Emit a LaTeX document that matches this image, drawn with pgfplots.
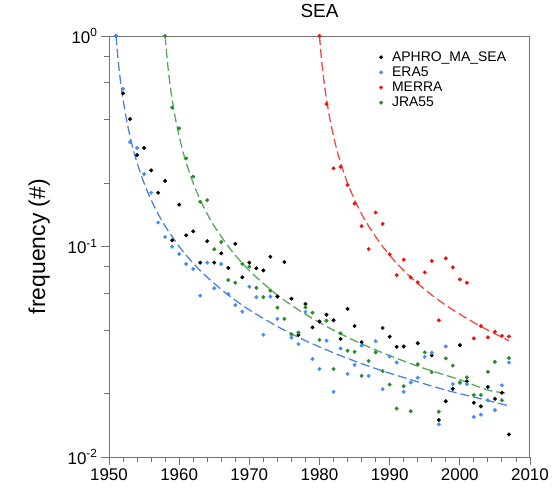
\documentclass[border=0pt]{standalone}
\usepackage{fontspec}
\setmainfont{Liberation Sans}
\usepackage{pgfplots}
\pgfplotsset{compat=1.18}
\definecolor{cblue}{RGB}{70,140,245}
\definecolor{cgreen}{RGB}{40,140,40}
\definecolor{cred}{RGB}{255,10,10}
\definecolor{lblue}{RGB}{75,130,225}
\definecolor{lgreen}{RGB}{85,170,85}
\definecolor{lred}{RGB}{245,70,70}
\begin{document}
\begin{tikzpicture}
\path[use as bounding box] (-109bp,-46bp) rectangle (443bp,457bp);
\begin{axis}[
  width=421bp, height=421bp, scale only axis,
  at={(0,0)}, anchor=south west,
  xmin=1950, xmax=2010, ymode=log, ymin=0.01, ymax=1,
  xtick={1950,1960,...,2010}, minor xtick={1952,1954,...,2008},
  ytick={0.01,0.1,1},
  yticklabels={10\textsuperscript{-2},10\textsuperscript{-1},10\textsuperscript{0}},
  minor ytick={0.02,0.04,0.06,0.08,0.2,0.4,0.6,0.8},
  tick align=outside, xtick pos=bottom, ytick pos=left,
  major tick length=8bp, minor tick length=5bp,
  axis line style={black!55, line width=1pt},
  every tick/.style={black!55, line width=0.9pt},
  /pgf/number format/1000 sep={},
  /pgf/number format/assume math mode=true,
  tick label style={font=\fontsize{17}{17}\selectfont},
  title={SEA},
  title style={font=\fontsize{19}{20}\selectfont, at={(axis description cs:0.5,1)}, anchor=south, yshift=9bp},
  ylabel={frequency (\#)},
  ylabel style={font=\fontsize{23}{24}\selectfont, at={(axis description cs:-0.166,0.5)}, anchor=center},
  legend style={at={(axis description cs:0.64,0.968)}, anchor=north west, draw=none, fill=none,
    font=\fontsize{14}{14}\selectfont, inner sep=0pt},
  legend cell align=left,
  legend image code/.code={\path[draw=none, fill=none] (-2.5bp,0bp) -- (9bp,0bp); \draw[#1] plot coordinates {(0bp,0bp)};},
]
% APHRO_MA_SEA
\addplot[only marks, mark=*, mark size=1.8pt, color=black] coordinates {
(1951,1.0) (1952,0.534) (1953,0.403) (1954,0.272) (1955,0.294) (1956,0.230) (1957,0.180)
(1958,0.205) (1959,0.107) (1960,0.158) (1961,0.113) (1962,0.118) (1963,0.0838) (1964,0.106)
(1965,0.0838) (1966,0.0928) (1967,0.0791) (1968,0.103) (1969,0.0714) (1970,0.0838) (1971,0.0788)
(1972,0.0770) (1973,0.0894) (1974,0.0578) (1975,0.0844) (1976,0.0565) (1977,0.0380) (1978,0.0533)
(1979,0.0413) (1980,0.0440) (1981,0.0474) (1982,0.0446) (1983,0.0364) (1984,0.0505) (1985,0.0419)
(1986,0.0351) (1989,0.0410) (1990,0.0373) (1991,0.0334) (1992,0.0335) (1994,0.0347) (1996,0.0304)
(1997,0.0150) (1998,0.0184) (1999,0.0211) (2000,0.0340) (2001,0.0229) (2002,0.0181) (2003,0.0174)
(2004,0.0215) (2005,0.0189) (2006,0.0202) (2007,0.0128)
};
\addlegendentry{APHRO\_MA\_SEA}
% ERA5
\addplot[only marks, mark=*, mark size=1.8pt, color=cblue] coordinates {
(1951,1.0) (1952,0.562) (1953,0.313) (1954,0.294) (1955,0.221) (1956,0.180) (1957,0.130)
(1958,0.111) (1959,0.0998) (1960,0.0921) (1961,0.0826) (1962,0.0782) (1963,0.0584) (1964,0.0838)
(1965,0.0633) (1966,0.0826) (1967,0.0595) (1968,0.0527) (1969,0.0490) (1970,0.0644) (1971,0.0575)
(1972,0.0381) (1973,0.0578) (1974,0.0453) (1976,0.0369) (1977,0.0344) (1978,0.0489) (1979,0.0292)
(1980,0.0262) (1981,0.0357) (1982,0.0204) (1983,0.0328) (1984,0.0248) (1985,0.0274) (1986,0.0338)
(1987,0.0243) (1988,0.0355) (1989,0.0210) (1990,0.0300) (1991,0.0281) (1992,0.0204) (1993,0.0226)
(1994,0.0238) (1995,0.0299) (1996,0.0313) (1997,0.0143) (1998,0.0335) (1999,0.0222) (2000,0.0225)
(2001,0.0222) (2002,0.0155) (2003,0.0159) (2004,0.0186) (2005,0.0167) (2006,0.0219) (2007,0.0281)
};
\addlegendentry{ERA5}
% MERRA
\addplot[only marks, mark=*, mark size=1.8pt, color=cred] coordinates {
(1980,1.0) (1981,0.475) (1982,0.235) (1983,0.239) (1984,0.196) (1985,0.160) (1986,0.125)
(1987,0.0973) (1988,0.145) (1989,0.128) (1990,0.0918) (1991,0.0732) (1992,0.0866) (1993,0.0714)
(1994,0.0676) (1995,0.0754) (1996,0.0853) (1997,0.0446) (1998,0.0879) (1999,0.0796) (2000,0.0698)
(2001,0.0673) (2002,0.0366) (2003,0.0419) (2004,0.0370) (2005,0.0394) (2006,0.0376) (2007,0.0374)
};
\addlegendentry{MERRA}
% JRA55
\addplot[only marks, mark=*, mark size=1.8pt, color=cgreen] coordinates {
(1958,1.0) (1959,0.457) (1960,0.364) (1961,0.262) (1962,0.215) (1963,0.163) (1964,0.166)
(1965,0.0970) (1966,0.105) (1967,0.0693) (1968,0.0673) (1969,0.0826) (1970,0.0802) (1971,0.0636)
(1972,0.0575) (1973,0.0617) (1974,0.0512) (1975,0.0453) (1976,0.0383) (1977,0.0390) (1978,0.0514)
(1979,0.0485) (1980,0.0360) (1981,0.0444) (1982,0.0262) (1983,0.0387) (1984,0.0320) (1985,0.0316)
(1986,0.0243) (1987,0.0286) (1988,0.0314) (1989,0.0256) (1990,0.0221) (1991,0.0170) (1992,0.0217)
(1993,0.0165) (1994,0.0276) (1995,0.0314) (1996,0.0253) (1997,0.0164) (1998,0.0294) (1999,0.0272)
(2000,0.0226) (2001,0.0239) (2002,0.0197) (2003,0.0197) (2004,0.0254) (2005,0.0283) (2006,0.0186)
(2007,0.0295)
};
\addlegendentry{JRA55}
% fitted curves
\addplot[lblue, line width=1.3pt, dash pattern=on 9bp off 4bp, smooth, forget plot] coordinates {
(1951,1) (1951.25,0.8) (1951.5,0.6667) (1951.75,0.5714) (1952,0.5) (1952.5,0.4) (1953,0.3333)
(1953.5,0.2857) (1954,0.25) (1955,0.2) (1956,0.1667) (1957,0.1429) (1958,0.125) (1960,0.1)
(1962,0.0833) (1964,0.0714) (1967,0.0588) (1970,0.05) (1974,0.0417) (1978,0.0357) (1983,0.0303)
(1988,0.0263) (1993,0.0233) (1998,0.0208) (2003,0.0189) (2007,0.0175)
};
\addplot[lgreen, line width=1.3pt, dash pattern=on 9bp off 4bp, smooth, forget plot] coordinates {
(1958,1) (1958.25,0.8) (1958.5,0.6667) (1958.75,0.5714) (1959,0.5) (1959.5,0.4) (1960,0.3333)
(1960.5,0.2857) (1961,0.25) (1962,0.2) (1963,0.1667) (1964,0.1429) (1965,0.125) (1967,0.1)
(1969,0.0833) (1971,0.0714) (1974,0.0588) (1977,0.05) (1981,0.0417) (1985,0.0357) (1990,0.0303)
(1995,0.0263) (2000,0.0233) (2004,0.0208) (2007,0.02)
};
\addplot[lred, line width=1.3pt, dash pattern=on 9bp off 4bp, smooth, forget plot] coordinates {
(1980,1) (1980.25,0.8) (1980.5,0.6667) (1980.75,0.5714) (1981,0.5) (1981.5,0.4) (1982,0.3333)
(1982.5,0.2857) (1983,0.25) (1984,0.2) (1985,0.1667) (1986,0.1429) (1987,0.125) (1989,0.1)
(1991,0.0833) (1993,0.0714) (1996,0.0588) (1999,0.05) (2003,0.0417) (2007,0.0357)
};
\end{axis}
\end{tikzpicture}
\end{document}
